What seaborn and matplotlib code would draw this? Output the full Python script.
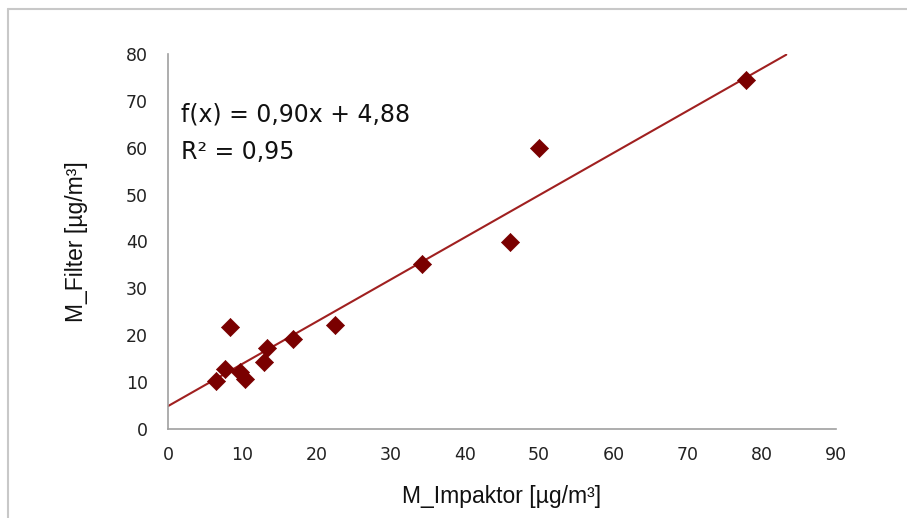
import matplotlib
matplotlib.use("Agg")
import matplotlib.pyplot as plt
from matplotlib.lines import Line2D
import seaborn as sns
import pandas as pd
import numpy as np

# Data
impaktor = [6.5, 7.7, 8.3, 9.7, 10.4, 12.9, 13.3, 16.8, 22.5, 34.2, 46.1, 50.0, 77.9]
filter_vals = [10.2, 12.8, 21.8, 12.2, 10.7, 14.4, 17.2, 19.3, 22.2, 35.2, 39.9, 59.9, 74.4]
slope = 0.90
intercept = 4.88
r2 = 0.95
trend_x = [0, 83.3]
x_ticks = [0, 10, 20, 30, 40, 50, 60, 70, 80, 90]
y_ticks = [0, 10, 20, 30, 40, 50, 60, 70, 80]

sns.set_style("white")
plt.rcParams['font.family'] = ['DejaVu Sans']

df = pd.DataFrame({"x": impaktor, "y": filter_vals})
trend = pd.DataFrame({"x": trend_x, "y": [slope * v + intercept for v in trend_x]})

fig = plt.figure(figsize=(9.07, 5.18), dpi=100)
ax = fig.add_axes([168 / 907, 1 - 429 / 518, (836 - 168) / 907, (429 - 54) / 518])

sns.lineplot(data=trend, x="x", y="y", ax=ax, color="#a02020", linewidth=1.5, zorder=2)
sns.scatterplot(data=df, x="x", y="y", ax=ax, marker="D", s=85, color="#7a0000",
                edgecolor="#7a0000", linewidth=0.5, zorder=3)

ax.set_xlim(0, 90)
ax.set_ylim(0, 80)
ax.set_xticks(x_ticks)
ax.set_yticks(y_ticks)
ax.tick_params(axis="both", direction="out", length=6.5, width=1.2, color="#a0a0a0",
               labelsize=12.5, labelcolor="#222222")
ax.tick_params(axis="x", pad=6)
ax.tick_params(axis="y", pad=8)
for side in ["top", "right"]:
    ax.spines[side].set_visible(False)
for side in ["left", "bottom"]:
    ax.spines[side].set_color("#a0a0a0")
    ax.spines[side].set_linewidth(1.2)

label_font = ['Liberation Sans Narrow', 'Liberation Sans', 'DejaVu Sans']
ax.set_xlabel("M_Impaktor [µg/m³]", fontsize=16.5, family=label_font, color="#111111", labelpad=15)
ax.set_ylabel("M_Filter [µg/m³]", fontsize=16.5, family=label_font, color="#111111", labelpad=27)

eq_text = "f(x) = " + f"{slope:.2f}".replace(".", ",") + "x + " + f"{intercept:.2f}".replace(".", ",")
ax.text(1.8, 67, eq_text,
        fontsize=17, va="center", ha="left", color="#111111", family=['DejaVu Sans'])
ax.text(1.8, 59, "R² = " + f"{r2:.2f}".replace(".", ","),
        fontsize=17, va="center", ha="left", color="#111111", family=['DejaVu Sans'])

# outer frame lines
fig.add_artist(Line2D([8 / 907, 8 / 907], [0, 1 - 9 / 518], transform=fig.transFigure,
                      color="#c8c8c8", linewidth=1.5))
fig.add_artist(Line2D([8 / 907, 1], [1 - 9 / 518, 1 - 9 / 518], transform=fig.transFigure,
                      color="#c8c8c8", linewidth=1.5))

fig.savefig("out.png", dpi=100, facecolor="white")
